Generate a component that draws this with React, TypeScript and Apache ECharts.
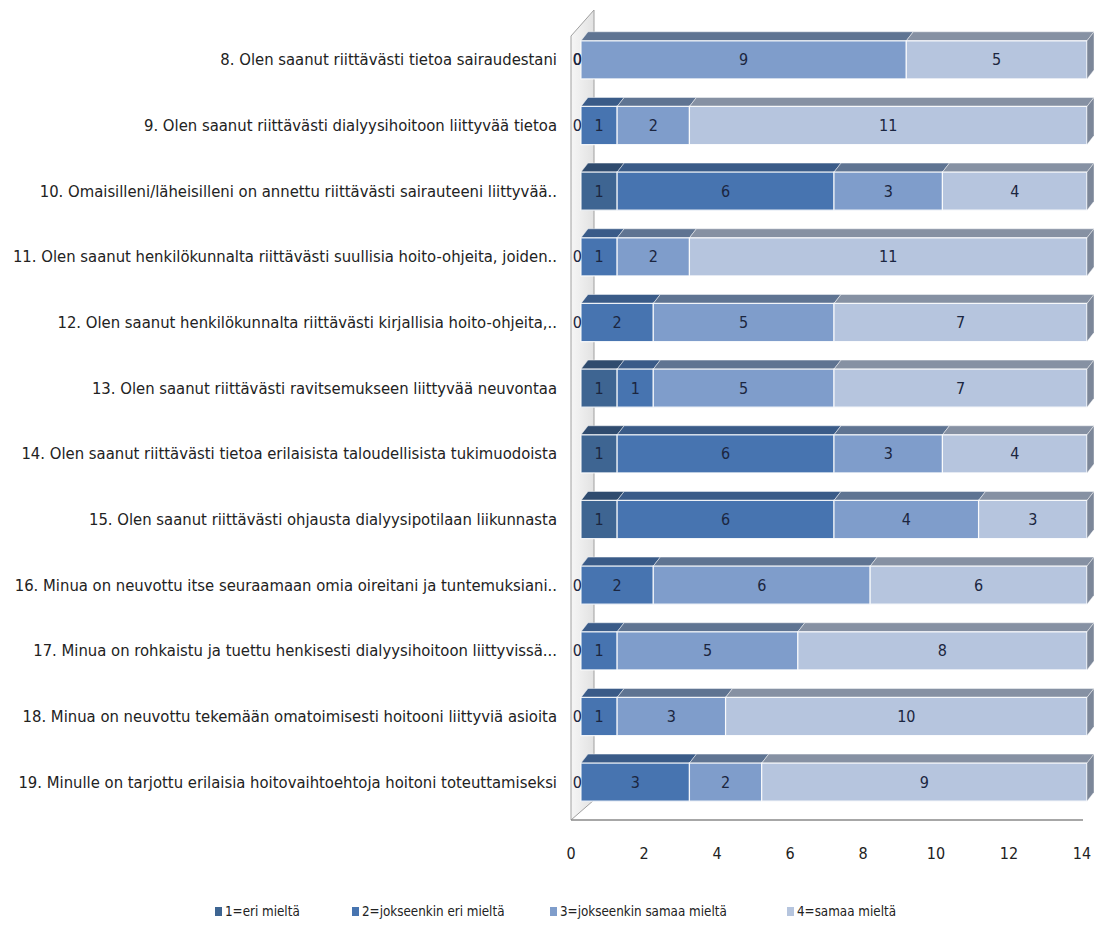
import React, { useEffect, useRef } from "react";
import * as echarts from "echarts";

const categories = [
  "8. Olen saanut riittävästi tietoa sairaudestani",
  "9. Olen saanut riittävästi dialyysihoitoon liittyvää tietoa",
  "10. Omaisilleni/läheisilleni on annettu riittävästi sairauteeni liittyvää..",
  "11. Olen saanut henkilökunnalta riittävästi suullisia hoito-ohjeita, joiden..",
  "12. Olen saanut henkilökunnalta riittävästi kirjallisia hoito-ohjeita,..",
  "13. Olen saanut riittävästi ravitsemukseen liittyvää neuvontaa",
  "14. Olen saanut riittävästi tietoa erilaisista taloudellisista tukimuodoista",
  "15. Olen saanut riittävästi ohjausta dialyysipotilaan liikunnasta",
  "16. Minua on neuvottu itse seuraamaan omia oireitani ja tuntemuksiani..",
  "17. Minua on rohkaistu ja tuettu henkisesti dialyysihoitoon liittyvissä...",
  "18. Minua on neuvottu tekemään omatoimisesti hoitooni liittyviä asioita",
  "19. Minulle on tarjottu erilaisia hoitovaihtoehtoja hoitoni toteuttamiseksi",
];

const seriesNames = [
  "1=eri mieltä",
  "2=jokseenkin eri mieltä",
  "3=jokseenkin samaa mieltä",
  "4=samaa mieltä",
];

const eriMielta = [0, 0, 1, 0, 0, 1, 1, 1, 0, 0, 0, 0];
const jokseenkinEri = [0, 1, 6, 1, 2, 1, 6, 6, 2, 1, 1, 3];
const jokseenkinSamaa = [9, 2, 3, 2, 5, 5, 3, 4, 6, 5, 3, 2];
const samaaMielta = [5, 11, 4, 11, 7, 7, 4, 3, 6, 8, 10, 9];

const xTicks = [0, 2, 4, 6, 8, 10, 12, 14];

const frontColors = ["#3e6592", "#4774b0", "#7f9dcb", "#b6c5de"];
const topColors = ["#2f4b6e", "#3a5b88", "#5f7492", "#8691a3"];
const sideColors = ["#2a4060", "#34507a", "#56698a", "#7c8799"];
const legendLefts = [210, 347, 545, 782];

const FONT = "'Liberation Sans Narrow','DejaVu Sans Condensed','Open Sans',sans-serif";

export default function App() {
  const ref = useRef<HTMLDivElement>(null);
  useEffect(() => {
    if (!ref.current) return;
    const chart = echarts.init(ref.current, null, { renderer: "svg" });
    const all = [eriMielta, jokseenkinEri, jokseenkinSamaa, samaaMielta];
    const totals = categories.map((_, i) => all.reduce((s, arr) => s + arr[i], 0));
    const series = all.map((arr, si) => {
      const data = arr.map((v, i) => {
        let start = 0;
        for (let k = 0; k < si; k++) start += all[k][i];
        const end = start + v;
        const isLast = end === totals[i] && v > 0 ? 1 : 0;
        return [i, start, end, v, isLast];
      });
      return {
        type: "custom",
        name: seriesNames[si],
        xAxisIndex: 0,
        yAxisIndex: 0,
        itemStyle: { color: frontColors[si] },
        encode: { x: [1, 2], y: 0 },
        data,
        renderItem: (params: any, api: any) => {
          const cat = api.value(0);
          const s = api.value(1);
          const e = api.value(2);
          const v = api.value(3);
          const last = api.value(4);
          const a = api.coord([s, cat]);
          const b = api.coord([e, cat]);
          const band = api.size([0, 1])[1];
          const h = band * 0.58;
          const top = a[1] - h / 2;
          const x0 = a[0];
          const x1 = b[0];
          const dx = 7;
          const dy = 9;
          const children: any[] = [];
          if (v > 0) {
            children.push({
              type: "polygon",
              shape: { points: [[x0, top], [x1, top], [x1 + dx, top - dy], [x0 + dx, top - dy]] },
              style: { fill: topColors[si], stroke: "rgba(255,255,255,0.45)", lineWidth: 1 },
            });
            children.push({
              type: "rect",
              shape: { x: x0, y: top, width: x1 - x0, height: h },
              style: { fill: frontColors[si], stroke: "rgba(255,255,255,0.85)", lineWidth: 1.2 },
            });
            if (last) {
              children.push({
                type: "polygon",
                shape: { points: [[x1, top], [x1 + dx, top - dy], [x1 + dx, top + h - dy], [x1, top + h]] },
                style: { fill: sideColors[si], stroke: "rgba(255,255,255,0.4)", lineWidth: 1 },
              });
            }
          }
          children.push({
            type: "text",
            x: v > 0 ? (x0 + x1) / 2 : x0 + 1,
            y: a[1],
            z2: 100,
            style: {
              text: String(v),
              align: v > 0 ? "center" : "right",
              verticalAlign: "middle",
              fill: "#1b2640",
              font: `16px ${FONT}`,
            },
          });
          return { type: "group", children };
        },
      };
    });

    chart.setOption({
      animation: false,
      backgroundColor: "#ffffff",
      legend: seriesNames.map((n, i) => ({
        bottom: 4,
        left: legendLefts[i],
        icon: "rect",
        itemWidth: 7,
        itemHeight: 9,
        textStyle: { fontFamily: FONT, fontSize: 13.3, color: "#222", padding: [0, 0, 0, -2] },
        data: [n],
      })),
      grid: [
        { left: 581, right: 13, top: 27, bottom: 112 },
        { left: 571, right: 18, top: 27, bottom: 92 },
      ],
      xAxis: [
        { type: "value", gridIndex: 0, min: 0, max: 14, interval: 2, show: false },
        {
          type: "value",
          gridIndex: 1,
          min: xTicks[0],
          max: xTicks[xTicks.length - 1],
          interval: 2,
          axisLine: { show: false },
          axisTick: { show: false },
          splitLine: { show: false },
          axisLabel: { margin: 10, fontFamily: FONT, fontSize: 16, color: "#222" },
        },
      ],
      yAxis: [
        {
          type: "category",
          gridIndex: 0,
          inverse: true,
          data: categories,
          axisLine: { show: false },
          axisTick: { show: false },
          axisLabel: { margin: 24, fontFamily: FONT, fontSize: 16.5, color: "#222" },
        },
        { type: "category", gridIndex: 1, show: false, data: categories },
      ],
      graphic: [
        {
          type: "polygon",
          shape: { points: [[594, 10], [594, 800], [571, 820], [571, 36]] },
          style: {
            fill: new echarts.graphic.LinearGradient(0, 0, 1, 0, [
              { offset: 0, color: "#f6f6f6" },
              { offset: 1, color: "#e2e2e2" },
            ]),
            stroke: "#a0a0a0",
            lineWidth: 1,
          },
          z: -1,
        },
        {
          type: "line",
          shape: { x1: 571, y1: 820, x2: 1083, y2: 820 },
          style: { stroke: "#8a8a8a", lineWidth: 1.5 },
          z: -1,
        },
      ],
      series,
    });
    return () => chart.dispose();
  }, []);
  return (
    <div
      ref={ref}
      style={{ position: "absolute", left: 0, top: 0, width: 1100, height: 927 }}
    />
  );
}
